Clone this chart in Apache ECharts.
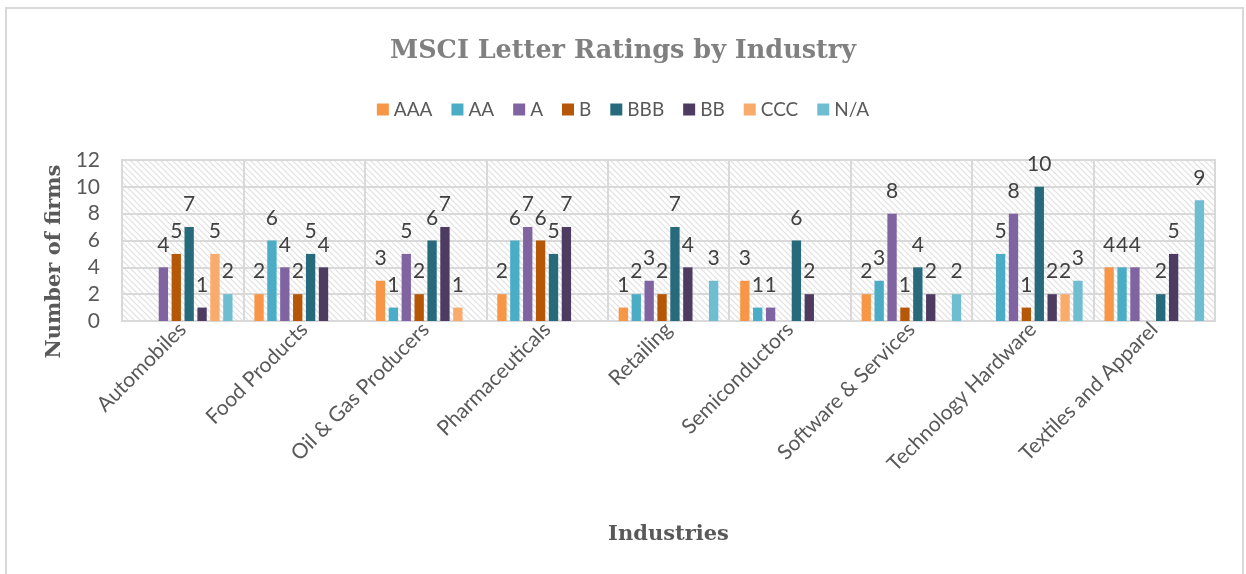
<!DOCTYPE html>
<html>
<head>
<meta charset="utf-8">
<script src="https://cdn.jsdelivr.net/npm/echarts@6/dist/echarts.min.js"></script>
<style>
  html, body { margin: 0; padding: 0; background: #fff; }
  #chart { width: 1246px; height: 574px; }
</style>
</head>
<body>
<div id="chart"></div>
<script>
// MSCI letter ratings per industry, counted from the reference picture

const industries = [
  'Automobiles', 'Food Products', 'Oil & Gas Producers', 'Pharmaceuticals',
  'Retailing', 'Semiconductors', 'Software & Services', 'Technology Hardware',
  'Textiles and Apparel'
];

const ratings = ['AAA', 'AA', 'A', 'B', 'BBB', 'BB', 'CCC', 'N/A'];

// null = no bar drawn for that rating
const aaa = [null, 2, 3, 2, 1, 3, 2, null, 4];
const aa  = [null, 6, 1, 6, 2, 1, 3, 5, 4];
const a   = [4, 4, 5, 7, 3, 1, 8, 8, 4];
const b   = [5, 2, 2, 6, 2, null, 1, 1, null];
const bbb = [7, 5, 6, 5, 7, 6, 4, 10, 2];
const bb  = [1, 4, 7, 7, 4, 2, 2, 2, 5];
const ccc = [5, null, 1, null, null, null, null, 2, null];
const na  = [2, null, null, null, 3, null, 2, 3, 9];

const yTicks = { min: 0, max: 12, interval: 2 };

const seriesValues = [aaa, aa, a, b, bbb, bb, ccc, na];
const colors = ['#F79646', '#4BACC6', '#8064A2', '#B65708', '#276A7C', '#4D3B62', '#F9AB6B', '#6FBDD1'];

const serif = '"DejaVu Serif", serif';
const sans = 'Lato, "Liberation Sans", sans-serif';

// diagonal hatch for the plot area
function makeHatch() {
  const c = document.createElement('canvas');
  c.width = 6;
  c.height = 6;
  const ctx = c.getContext('2d');
  ctx.fillStyle = '#ffffff';
  ctx.fillRect(0, 0, 6, 6);
  ctx.strokeStyle = '#e0e0e0';
  ctx.lineWidth = 1.2;
  ctx.beginPath();
  ctx.moveTo(-1, -1); ctx.lineTo(7, 7);
  ctx.moveTo(-1, 5); ctx.lineTo(1, 7);
  ctx.moveTo(5, -1); ctx.lineTo(7, 1);
  ctx.stroke();
  return c;
}

const chart = echarts.init(document.getElementById('chart'), null, { renderer: 'canvas' });

const option = {
  animation: false,
  color: colors,
  title: {
    text: 'MSCI Letter Ratings by Industry',
    left: 'center',
    top: 33,
    textStyle: { fontFamily: serif, fontWeight: 'bold', fontSize: 25.5, color: '#808080' }
  },
  legend: {
    top: 95,
    left: 'center',
    itemWidth: 12,
    itemHeight: 12,
    itemGap: 19,
    icon: 'rect',
    textStyle: { fontFamily: sans, fontSize: 19, color: '#595959' },
    data: ratings
  },
  graphic: [{
    type: 'rect',
    shape: { x: 6, y: 8, width: 1237, height: 580 },
    style: { fill: 'none', stroke: '#d9d9d9', lineWidth: 2 },
    silent: true
  }],
  grid: {
    left: 122,
    right: 31,
    top: 160,
    bottom: 253,
    show: true,
    borderColor: '#d9d9d9',
    borderWidth: 2,
    backgroundColor: { image: makeHatch(), repeat: 'repeat' }
  },
  xAxis: {
    type: 'category',
    data: industries,
    name: 'Industries',
    nameLocation: 'middle',
    nameGap: 203,
    nameTextStyle: { fontFamily: serif, fontWeight: 'bold', fontSize: 21, color: '#595959' },
    axisLine: { show: true, lineStyle: { color: '#d9d9d9', width: 2 } },
    axisTick: { show: false },
    splitLine: { show: true, lineStyle: { color: '#d9d9d9', width: 2 } },
    axisLabel: {
      rotate: 45,
      margin: 5,
      interval: 0,
      fontFamily: sans,
      fontSize: 21,
      color: '#595959'
    }
  },
  yAxis: {
    type: 'value',
    min: yTicks.min,
    max: yTicks.max,
    interval: yTicks.interval,
    name: 'Number of firms',
    nameLocation: 'middle',
    nameRotate: 90,
    nameGap: 56,
    nameTextStyle: {
      fontFamily: serif, fontWeight: 'bold', fontSize: 21, color: '#595959',
      padding: [0, 42, 0, 0]
    },
    axisLine: { show: false },
    axisTick: { show: false },
    splitLine: { show: true, lineStyle: { color: '#d9d9d9', width: 2 } },
    axisLabel: { margin: 22, fontFamily: sans, fontSize: 21, color: '#595959' }
  },
  series: ratings.map((name, i) => ({
    name,
    type: 'bar',
    data: seriesValues[i],
    barGap: '38%',
    barCategoryGap: '18%',
    label: {
      show: true,
      position: 'top',
      distance: 12,
      fontFamily: sans,
      fontSize: 21,
      color: '#404040'
    }
  }))
};

chart.setOption(option);
</script>
</body>
</html>
